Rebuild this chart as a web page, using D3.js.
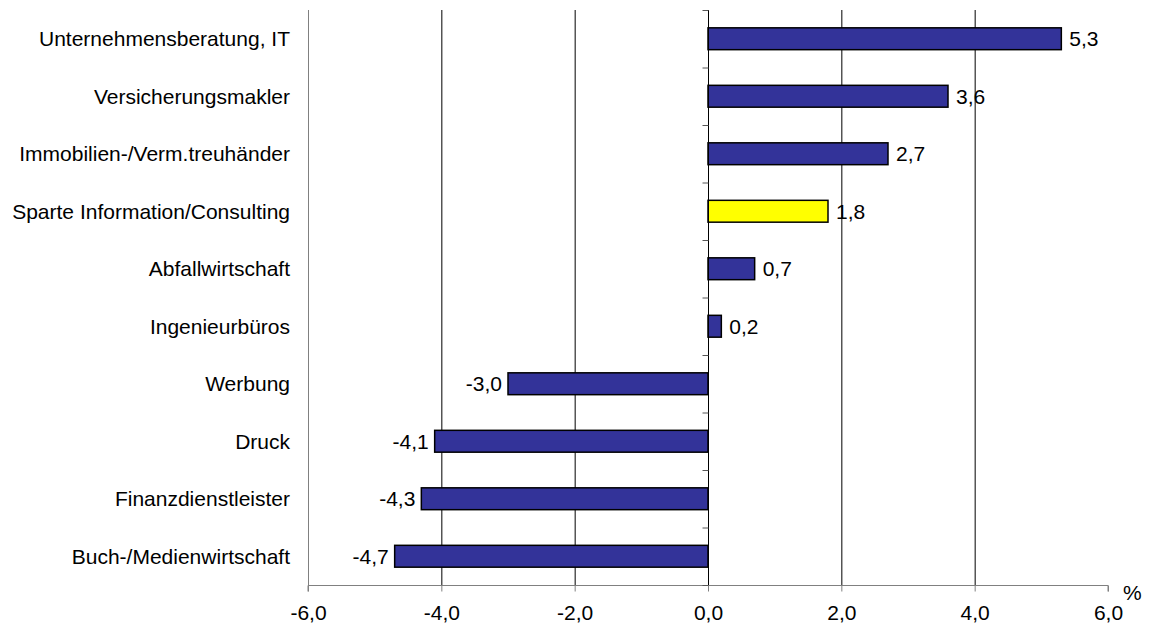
<!DOCTYPE html>
<html>
<head>
<meta charset="utf-8">
<script src="https://cdnjs.cloudflare.com/ajax/libs/d3/7.8.5/d3.min.js"></script>
<style>
  html, body { margin: 0; padding: 0; background: #fff; }
  svg { display: block; }
  text { font-family: Arial, "Liberation Sans", sans-serif; fill: #000; }
</style>
</head>
<body>
<svg id="chart" width="1150" height="627"></svg>
<script>
// Branches, top to bottom, with their change in percent
const categories = [
  "Unternehmensberatung, IT",
  "Versicherungsmakler",
  "Immobilien-/Verm.treuhänder",
  "Sparte Information/Consulting",
  "Abfallwirtschaft",
  "Ingenieurbüros",
  "Werbung",
  "Druck",
  "Finanzdienstleister",
  "Buch-/Medienwirtschaft"
];
const values = [5.3, 3.6, 2.7, 1.8, 0.7, 0.2, -3.0, -4.1, -4.3, -4.7];
// The division total is highlighted
const highlight = ["Sparte Information/Consulting"];
const xTicks = [-6, -4, -2, 0, 2, 4, 6];
const unitLabel = "%";

const svg = d3.select("#chart");
const fmt = v => d3.format(".1f")(v).replace(".", ",").replace("−", "-");

const plotTop = 10, plotBottom = 585;
const x = d3.scaleLinear().domain([-6, 6]).range([308, 1108]);
const y = d3.scaleBand().domain(categories).range([plotTop, plotBottom])
  .paddingInner(0.62).paddingOuter(0.31);

// Vertical gridlines
svg.append("g").selectAll("line")
  .data(xTicks.filter(t => t !== 0 && t !== 6))
  .join("line")
  .attr("x1", d => x(d) + 0.5).attr("x2", d => x(d) + 0.5)
  .attr("y1", plotTop).attr("y2", plotBottom)
  .attr("stroke", d => d === -6 ? "#808080" : "#000")
  .attr("stroke-width", 1);

// Bottom value axis
const xAxis = d3.axisBottom(x).tickValues(xTicks).tickSize(6).tickPadding(14)
  .tickFormat(fmt);
const gx = svg.append("g").attr("transform", `translate(0,${plotBottom + 0.5})`).call(xAxis);
gx.select(".domain").attr("stroke", "#808080").attr("d", `M${x(-6)},6V0H${x(6)}V6`);
gx.selectAll(".tick line").attr("stroke", "#808080");
gx.selectAll(".tick text").attr("font-size", 21)
  .attr("font-family", "Arial, 'Liberation Sans', sans-serif").attr("fill", "#000");

svg.append("text").attr("x", 1123).attr("y", 600).attr("font-size", 21).text(unitLabel);

// Bars
svg.append("g").selectAll("rect")
  .data(values)
  .join("rect")
  .attr("x", d => x(Math.min(0, d)))
  .attr("y", (d, i) => y(categories[i]))
  .attr("width", d => Math.abs(x(d) - x(0)))
  .attr("height", y.bandwidth())
  .attr("fill", (d, i) => highlight.includes(categories[i]) ? "#ffff00" : "#333399")
  .attr("stroke", "#000")
  .attr("stroke-width", 1.5);

// Category axis at zero with outward ticks on band boundaries
const zx = x(0) + 0.5;
svg.append("line").attr("x1", zx).attr("x2", zx).attr("y1", plotTop).attr("y2", plotBottom)
  .attr("stroke", "#000").attr("stroke-width", 1);
const boundaries = d3.range(categories.length + 1).map(i => plotTop + i * y.step());
svg.append("g").selectAll("line").data(boundaries).join("line")
  .attr("x1", zx - 6).attr("x2", zx).attr("y1", d => d + 0.5).attr("y2", d => d + 0.5)
  .attr("stroke", "#555").attr("stroke-width", 1);

// Category labels
svg.append("g").selectAll("text").data(categories).join("text")
  .attr("x", 290)
  .attr("y", d => y(d) + y.bandwidth() / 2)
  .attr("dy", "0.35em")
  .attr("text-anchor", "end")
  .attr("font-size", 21)
  .text(d => d);

// Value labels
svg.append("g").selectAll("text").data(values).join("text")
  .attr("x", d => d >= 0 ? x(d) + 8 : x(d) - 6)
  .attr("y", (d, i) => y(categories[i]) + y.bandwidth() / 2)
  .attr("dy", "0.35em")
  .attr("text-anchor", d => d >= 0 ? "start" : "end")
  .attr("font-size", 21)
  .text(d => fmt(d));
</script>
</body>
</html>
